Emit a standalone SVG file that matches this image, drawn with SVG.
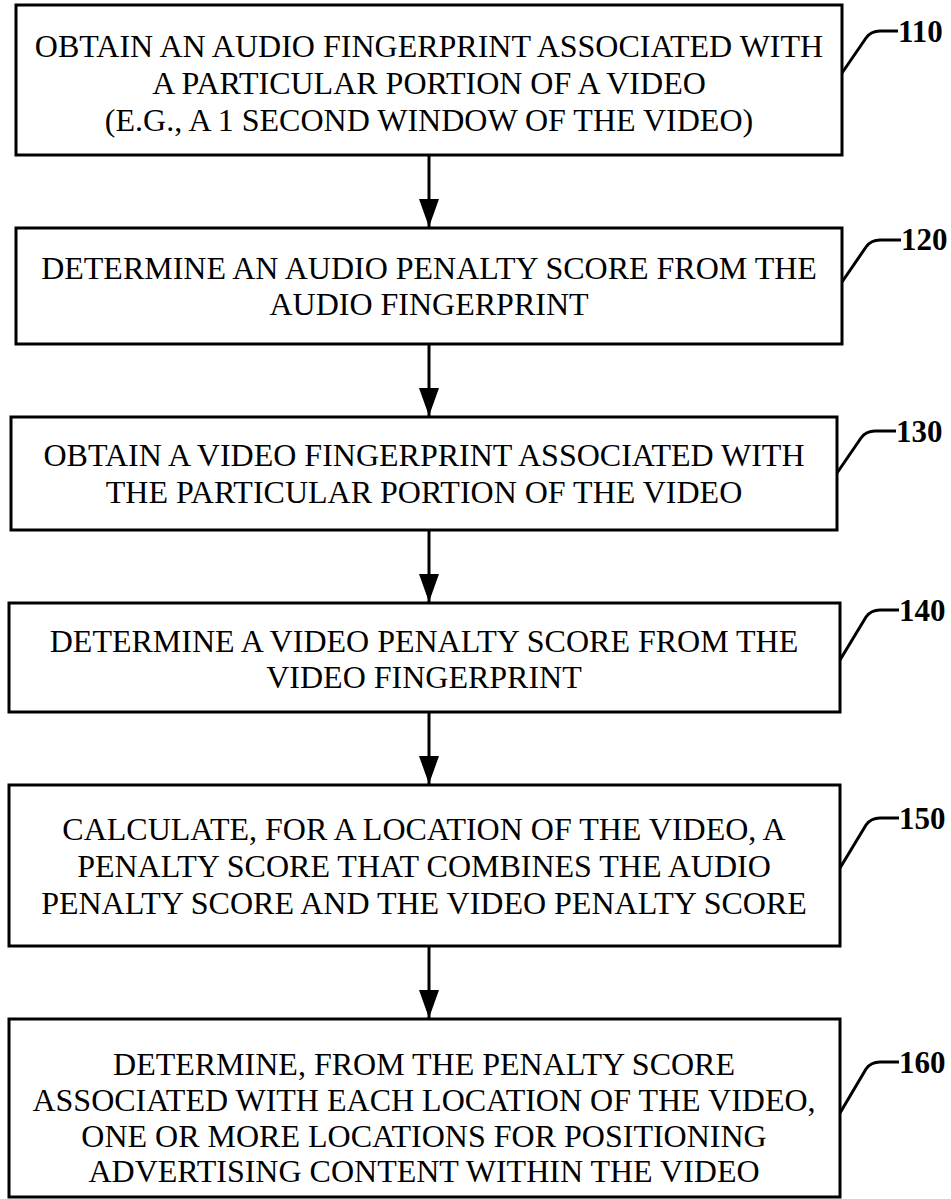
<svg xmlns="http://www.w3.org/2000/svg" width="951" height="1199" viewBox="0 0 951 1199">
  <style>
    .box { fill: #ffffff; stroke: #000000; stroke-width: 3; }
    .txt { font-family: "Liberation Serif", "Times New Roman", serif; font-size: 32px; fill: #000000; text-anchor: middle; }
    .ref { font-family: "Liberation Serif", "Times New Roman", serif; font-size: 31px; font-weight: bold; fill: #000000; }
    .lead { fill: none; stroke: #000000; stroke-width: 3; stroke-linejoin: round; }
    .flow { fill: none; stroke: #000000; stroke-width: 3; marker-end: url(#arrow); }
  </style>
  <defs>
    <marker id="arrow" markerWidth="20" markerHeight="28" refX="10" refY="28" orient="auto-start-reverse" markerUnits="userSpaceOnUse" viewBox="0 0 20 28">
      <path d="M0,0 L20,0 L10,28 Z" fill="#000000" transform="rotate(-90 10 14) translate(0 0)"/>
    </marker>
  </defs>
  <rect width="951" height="1199" fill="#ffffff"/>

  <!-- flow connectors between steps -->
  <g id="connectors">
    <line x1="429" y1="156" x2="429" y2="227" stroke="#000" stroke-width="3"/>
    <polygon points="419,199 439,199 429,227" fill="#000"/>
    <line x1="429" y1="345" x2="429" y2="416" stroke="#000" stroke-width="3"/>
    <polygon points="419,388 439,388 429,416" fill="#000"/>
    <line x1="429" y1="531" x2="429" y2="602" stroke="#000" stroke-width="3"/>
    <polygon points="419,574 439,574 429,602" fill="#000"/>
    <line x1="429" y1="713" x2="429" y2="784" stroke="#000" stroke-width="3"/>
    <polygon points="419,756 439,756 429,784" fill="#000"/>
    <line x1="429" y1="947" x2="429" y2="1018" stroke="#000" stroke-width="3"/>
    <polygon points="419,990 439,990 429,1018" fill="#000"/>
  </g>

  <g id="step110">
    <rect class="box" x="16" y="5" width="826" height="150"/>
    <text class="txt" x="429" y="57">OBTAIN AN AUDIO FINGERPRINT ASSOCIATED WITH</text>
    <text class="txt" x="429" y="94">A PARTICULAR PORTION OF A VIDEO</text>
    <text class="txt" x="429" y="131">(E.G., A 1 SECOND WINDOW OF THE VIDEO)</text>
    <path class="lead" d="M842,73 L866,38 Q871,31 880,31 L898,31"/>
    <text class="ref" x="898" y="42">110</text>
  </g>

  <g id="step120">
    <rect class="box" x="16" y="228" width="826" height="116"/>
    <text class="txt" x="429" y="279">DETERMINE AN AUDIO PENALTY SCORE FROM THE</text>
    <text class="txt" x="429" y="315">AUDIO FINGERPRINT</text>
    <path class="lead" d="M842,282 L866,247 Q871,240 880,240 L901,240"/>
    <text class="ref" x="901" y="250">120</text>
  </g>

  <g id="step130">
    <rect class="box" x="11" y="417" width="826" height="113"/>
    <text class="txt" x="424" y="466">OBTAIN A VIDEO FINGERPRINT ASSOCIATED WITH</text>
    <text class="txt" x="424" y="503">THE PARTICULAR PORTION OF THE VIDEO</text>
    <path class="lead" d="M837,473 L861,438 Q866,431 875,431 L896,431"/>
    <text class="ref" x="896" y="442">130</text>
  </g>

  <g id="step140">
    <rect class="box" x="9" y="603" width="831" height="109"/>
    <text class="txt" x="424" y="652">DETERMINE A VIDEO PENALTY SCORE FROM THE</text>
    <text class="txt" x="424" y="688">VIDEO FINGERPRINT</text>
    <path class="lead" d="M840,660 L866,617 Q871,610 880,610 L899,610"/>
    <text class="ref" x="899" y="621">140</text>
  </g>

  <g id="step150">
    <rect class="box" x="9" y="785" width="831" height="161"/>
    <text class="txt" x="424" y="840">CALCULATE, FOR A LOCATION OF THE VIDEO, A</text>
    <text class="txt" x="424" y="877">PENALTY SCORE THAT COMBINES THE AUDIO</text>
    <text class="txt" x="424" y="914">PENALTY SCORE AND THE VIDEO PENALTY SCORE</text>
    <path class="lead" d="M840,868 L866,825 Q871,818 880,818 L899,818"/>
    <text class="ref" x="899" y="829">150</text>
  </g>

  <g id="step160">
    <rect class="box" x="9" y="1019" width="831" height="178"/>
    <text class="txt" x="424" y="1075">DETERMINE, FROM THE PENALTY SCORE</text>
    <text class="txt" x="424" y="1111">ASSOCIATED WITH EACH LOCATION OF THE VIDEO,</text>
    <text class="txt" x="424" y="1147">ONE OR MORE LOCATIONS FOR POSITIONING</text>
    <text class="txt" x="424" y="1182">ADVERTISING CONTENT WITHIN THE VIDEO</text>
    <path class="lead" d="M840,1113 L866,1069 Q871,1062 880,1062 L899,1062"/>
    <text class="ref" x="899" y="1073">160</text>
  </g>
</svg>
